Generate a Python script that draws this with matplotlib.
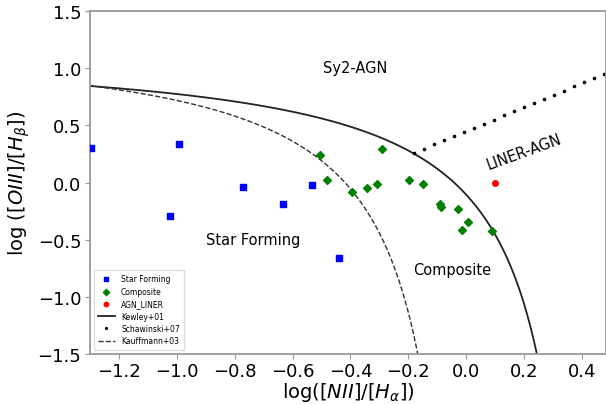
import numpy as np
import matplotlib
matplotlib.use("Agg")
import matplotlib.pyplot as plt

# Measured points (log NII/Ha, log OIII/Hb)
sf_x = [-1.294, -0.993, -1.024, -0.771, -0.633, -0.534, -0.44]
sf_y = [0.304, 0.333, -0.292, -0.035, -0.184, -0.026, -0.66]

comp_x = [-0.506, -0.482, -0.396, -0.344, -0.310, -0.290, -0.199,
          -0.151, -0.091, -0.086, -0.029, 0.006, -0.014, 0.089]
comp_y = [0.24, 0.018, -0.085, -0.047, -0.009, 0.29, 0.018,
          -0.009, -0.184, -0.216, -0.228, -0.348, -0.412, -0.427]

liner_x = [0.100]
liner_y = [-0.003]

# Demarcation line coefficients: y = a / (x - b) + c
KEWLEY = (0.61, 0.47, 1.19)
KAUFFMANN = (0.61, 0.05, 1.30)
# Schawinski+07: y = m * x + q
SCHAWINSKI = (1.05, 0.45)

XLIM = (-1.3, 0.482)
YLIM = (-1.5, 1.5)


def demarc(coef, x):
    a, b, c = coef
    return a / (x - b) + c


fig = plt.figure(figsize=(6.06, 4.06), dpi=100)
ax = fig.add_axes([0.148, 0.126, 0.852, 0.844])

ax.scatter(sf_x, sf_y, marker="s", s=18, color="blue", label="Star Forming", zorder=3)
ax.scatter(comp_x, comp_y, marker="D", s=16, color="green", label="Composite", zorder=3)
ax.scatter(liner_x, liner_y, marker="o", s=16, color="red", label="AGN_LINER", zorder=3)

# Kewley+01 down to the bottom of the frame
x_end = KEWLEY[1] + KEWLEY[0] / (YLIM[0] - KEWLEY[2])
xk = np.linspace(XLIM[0], x_end, 400)
ax.plot(xk, demarc(KEWLEY, xk), color="#222222", lw=1.3, label="Kewley+01")

# Schawinski+07 starts where it meets Kewley
xs = np.arange(-0.18, 0.52, 0.0345)
ax.plot(xs, SCHAWINSKI[0] * xs + SCHAWINSKI[1], ".", color="black", ms=3.2,
        label="Schawinski+07")

x_end = KAUFFMANN[1] + KAUFFMANN[0] / (YLIM[0] - KAUFFMANN[2])
xf = np.linspace(XLIM[0], x_end, 400)
ax.plot(xf, demarc(KAUFFMANN, xf), "--", color="#333333", lw=1.0, label="Kauffmann+03")

ax.text(-0.385, 1.01, "Sy2-AGN", ha="center", va="center", fontsize=10.5)
ax.text(0.2, 0.27, "LINER-AGN", ha="center", va="center", fontsize=10.5, rotation=20)
ax.text(-0.737, -0.5, "Star Forming", ha="center", va="center", fontsize=10.5)
ax.text(-0.05, -0.76, "Composite", ha="center", va="center", fontsize=10.5)

ax.set_xlim(*XLIM)
ax.set_ylim(*YLIM)
ax.set_xticks([-1.2, -1.0, -0.8, -0.6, -0.4, -0.2, 0.0, 0.2, 0.4])
ax.set_yticks([-1.5, -1.0, -0.5, 0.0, 0.5, 1.0, 1.5])
ax.tick_params(labelsize=13, color="#999999", pad=2.5)
ax.set_xlabel(r"log([$NII$]/[$H_\alpha$])", fontsize=14, labelpad=0)
ax.set_ylabel(r"log ([$OIII$]/[$H_\beta$])", fontsize=14)
for sp in ax.spines.values():
    sp.set_color("#999999")
    sp.set_linewidth(1.3)

ax.legend(loc="lower left", fontsize=5.5, markerscale=0.8, handlelength=2.2,
          borderpad=0.6, labelspacing=0.45, framealpha=1, edgecolor="#dddddd")

fig.savefig("out.png")
